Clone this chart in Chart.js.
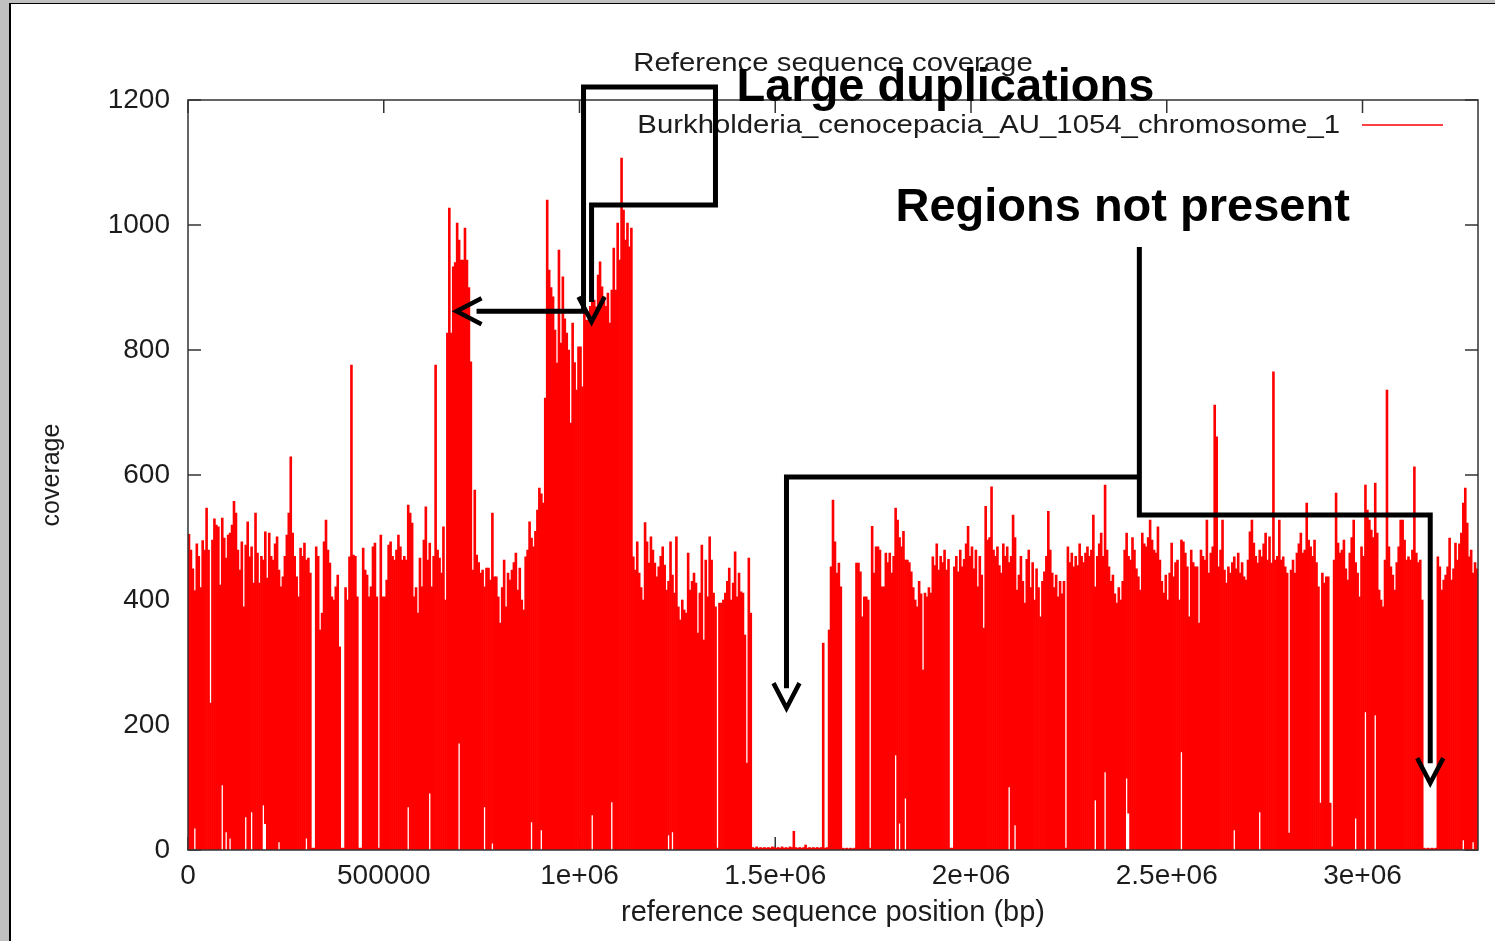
<!DOCTYPE html>
<html>
<head>
<meta charset="utf-8">
<script src="https://cdn.jsdelivr.net/npm/chart.js@4.4.1/dist/chart.umd.min.js"></script>
<style>
  html, body { margin: 0; padding: 0; background: #c0c0c0; overflow: hidden; }
  #sheet { position: absolute; left: 9px; top: 3px; width: 1600px; height: 1000px; background: #fff; border-left: 2px solid #000; border-top: 1px solid #000; }
  #wrap { position: absolute; left: 0; top: 0; width: 1495px; height: 941px; }
</style>
</head>
<body>
<div id="sheet"></div>
<div id="wrap"><canvas id="chart" width="1495" height="941"></canvas></div>
<script>
// coverage along the chromosome, one value per 5 kb bin (one line = 100 kb)
const binSize = 5000;
const xMax = 3295000;
const coverage = [
  505, 480, 450, 415, 490, 470, 420, 495, 480, 547, 480, 235, 496, 530, 520, 517, 424, 531, 499, 467,
  504, 507, 520, 558, 539, 480, 448, 493, 389, 488, 525, 469, 485, 427, 539, 475, 427, 470, 464, 509,
  435, 507, 470, 464, 490, 501, 448, 421, 437, 470, 504, 539, 629, 507, 470, 437, 405, 483, 470, 491,
  464, 467, 443, 3, 3, 485, 470, 352, 379, 493, 528, 480, 459, 405, 400, 421, 440, 325, 3, 3,
  420, 400, 469, 776, 472, 470, 405, 3, 3, 483, 448, 440, 405, 421, 485, 491, 405, 3, 504, 405,
  405, 432, 488, 493, 470, 464, 480, 504, 485, 464, 470, 464, 552, 539, 523, 405, 420, 379, 467, 421,
  496, 549, 464, 491, 421, 470, 776, 480, 467, 443, 517, 400, 827, 1027, 827, 933, 940, 1003, 976, 944,
  944, 995, 944, 900, 781, 448, 576, 472, 460, 443, 448, 421, 451, 451, 432, 539, 437, 437, 405, 363,
  420, 464, 389, 443, 432, 448, 460, 475, 416, 451, 400, 384, 469, 480, 525, 499, 485, 510, 544, 579,
  570, 555, 723, 1040, 928, 900, 885, 832, 779, 960, 811, 917, 850, 827, 800, 683, 843, 780, 736, 805,
  805, 741, 875, 848, 848, 870, 896, 880, 869, 920, 941, 901, 885, 870, 891, 843, 896, 963, 896, 1003,
  944, 1107, 1024, 976, 1003, 965, 995, 469, 448, 493, 443, 420, 400, 524, 493, 459, 501, 480, 459, 437,
  453, 470, 485, 456, 416, 430, 493, 440, 411, 501, 389, 368, 400, 384, 379, 475, 416, 430, 443, 427,
  347, 411, 488, 336, 464, 405, 501, 464, 411, 389, 3, 395, 395, 400, 411, 430, 451, 400, 427, 477,
  405, 443, 413, 411, 344, 139, 467, 379, 4, 3, 5, 3, 4, 3, 4, 3, 4, 3, 5, 4,
  3, 4, 3, 5, 3, 4, 3, 5, 4, 30, 4, 3, 4, 3, 4, 8, 3, 4, 3, 4,
  3, 4, 3, 4, 331, 3, 4, 352, 453, 560, 493, 443, 459, 421, 3, 2, 3, 2, 3, 2,
  3, 459, 459, 445, 373, 405, 405, 400, 3, 518, 443, 485, 485, 480, 421, 421, 475, 460, 475, 443,
  470, 547, 528, 500, 485, 510, 464, 464, 460, 445, 420, 400, 389, 430, 410, 288, 411, 405, 420, 411,
  469, 455, 490, 448, 470, 460, 480, 448, 465, 3, 3, 453, 470, 445, 480, 453, 465, 490, 518, 470,
  485, 450, 480, 421, 470, 440, 355, 550, 496, 500, 581, 480, 470, 485, 455, 443, 490, 470, 485, 460,
  470, 536, 500, 416, 440, 470, 430, 395, 465, 480, 420, 460, 400, 450, 420, 373, 430, 445, 470, 542,
  480, 443, 420, 440, 405, 430, 410, 430, 3, 485, 460, 475, 453, 470, 455, 490, 470, 460, 475, 485,
  470, 480, 536, 421, 470, 490, 507, 470, 584, 480, 453, 430, 440, 410, 395, 420, 400, 430, 480, 507,
  470, 464, 500, 480, 450, 437, 416, 507, 490, 485, 500, 528, 496, 480, 475, 517, 464, 430, 411, 440,
  400, 443, 491, 437, 460, 464, 400, 496, 493, 475, 453, 373, 480, 460, 453, 453, 363, 480, 470, 464,
  528, 443, 475, 485, 712, 661, 453, 480, 528, 448, 427, 453, 443, 460, 469, 450, 475, 443, 460, 437,
  432, 464, 509, 528, 491, 470, 459, 480, 469, 490, 507, 464, 501, 459, 765, 464, 470, 528, 464, 469,
  453, 443, 27, 448, 464, 443, 475, 490, 507, 475, 480, 555, 496, 485, 470, 496, 460, 421, 75, 443,
  427, 437, 437, 75, 5, 464, 571, 491, 475, 480, 496, 450, 432, 475, 500, 528, 460, 443, 405, 485,
  470, 584, 544, 528, 512, 500, 587, 507, 416, 400, 389, 464, 736, 485, 453, 440, 416, 460, 485, 528,
  528, 496, 464, 469, 464, 480, 613, 475, 460, 464, 400, 3, 2, 3, 2, 3, 2, 3, 469, 453,
  416, 432, 440, 453, 499, 432, 450, 491, 464, 490, 507, 555, 579, 523, 469, 480, 443, 460, 450
];

// bins whose lowest coverage stays above zero (white gap under the red)
const coverageFloor = [
  [15000, 35], [86000, 104], [97000, 29], [107000, 19], [147000, 53], [164000, 61],
  [190000, 72], [199000, 42], [230000, 13], [301000, 19], [562000, 69], [617000, 91],
  [690000, 171], [755000, 69], [776000, 11], [878000, 45], [903000, 32], [1031000, 56],
  [1082000, 77], [1225000, 24], [1235000, 29], [1806000, 152], [1816000, 43], [1833000, 83],
  [2099000, 101], [2112000, 40], [2318000, 80], [2343000, 125], [2399000, 115], [2403000, 59],
  [2536000, 157], [2671000, 32], [2736000, 61], [2981000, 51], [3008000, 221], [3031000, 216],
  [3257000, 16], [3283000, 13]
];

const xTickValues = [0, 500000, 1000000, 1500000, 2000000, 2500000, 3000000];
const xTickLabels = ['0', '500000', '1e+06', '1.5e+06', '2e+06', '2.5e+06', '3e+06'];
const yTickValues = [0, 200, 400, 600, 800, 1000, 1200];

const chartTitle = 'Reference sequence coverage';
const seriesName = 'Burkholderia_cenocepacia_AU_1054_chromosome_1';
const xTitle = 'reference sequence position (bp)';
const yTitle = 'coverage';

// hand drawn annotations, in data units (bp, coverage)
const dupPath = [[737000, 862], [1010300, 862], [1010300, 1221], [1347300, 1221], [1347300, 1032], [1030800, 1032], [1030800, 877]];
const missingPathA = [[2430000, 965], [2430000, 536], [3173000, 536], [3173000, 139]];
const missingPathB = [[2430000, 597], [1528700, 597], [1528700, 259]];
const dupLabel = { text: 'Large duplications', at: [1401000, 1198] };
const missingLabel = { text: 'Regions not present', at: [1807000, 1006] };

const FONT = '"Liberation Sans", Arial, Helvetica, sans-serif';
const TEXT = '#1c1c1c';

let floorByBin = {};
coverageFloor.forEach(f => { floorByBin[Math.floor(f[0] / binSize)] = f[1]; });
let barData = coverage.map((v, i) => ({ x: (i + 0.5) * binSize, y: [floorByBin[i] || 0, v] }));

function px(chart, pt) {
    return [chart.scales.x.getPixelForValue(pt[0]), chart.scales.y.getPixelForValue(pt[1])];
}

function wideText(ctx, text, x, y, align, size) {
    ctx.save();
    ctx.font = size + 'px ' + FONT;
    ctx.fillStyle = TEXT;
    ctx.textAlign = align;
    ctx.textBaseline = 'alphabetic';
    ctx.translate(x, y);
    ctx.scale(1.15, 1);
    ctx.fillText(text, 0, 0);
    ctx.restore();
}

function drawPath(chart, path, headStart, headEnd) {
    let ctx = chart.ctx;
    let pts = path.map(p => px(chart, p));
    ctx.save();
    ctx.strokeStyle = '#000';
    ctx.lineWidth = 5;
    ctx.lineJoin = 'miter';
    ctx.lineCap = 'butt';
    ctx.beginPath();
    pts.forEach((p, i) => i ? ctx.lineTo(p[0], p[1]) : ctx.moveTo(p[0], p[1]));
    ctx.stroke();
    if (headStart) chevron(ctx, pts[1], pts[0]);
    if (headEnd) chevron(ctx, pts[pts.length - 2], pts[pts.length - 1]);
    ctx.restore();
}

function chevron(ctx, from, to) {
    let dx = to[0] - from[0], dy = to[1] - from[1];
    let len = Math.hypot(dx, dy);
    dx /= len; dy /= len;
    let tip = [to[0] + dx * 20, to[1] + dy * 20];
    let back = [tip[0] - dx * 25, tip[1] - dy * 25];
    ctx.lineWidth = 4.5;
    ctx.beginPath();
    ctx.moveTo(back[0] - dy * 13, back[1] + dx * 13);
    ctx.lineTo(tip[0], tip[1]);
    ctx.lineTo(back[0] + dy * 13, back[1] - dx * 13);
    ctx.stroke();
}

const overlay = {
    id: 'overlay',
    beforeDatasetsDraw(chart) {
        // gnuplot style inward ticks on all four sides
        let ctx = chart.ctx, a = chart.chartArea;
        ctx.save();
        ctx.strokeStyle = '#333';
        ctx.lineWidth = 1.5;
        ctx.beginPath();
        xTickValues.forEach(v => {
            let x = chart.scales.x.getPixelForValue(v);
            ctx.moveTo(x, a.bottom); ctx.lineTo(x, a.bottom - 13);
            ctx.moveTo(x, a.top); ctx.lineTo(x, a.top + 13);
        });
        yTickValues.forEach(v => {
            let y = chart.scales.y.getPixelForValue(v);
            ctx.moveTo(a.left, y); ctx.lineTo(a.left + 13, y);
            ctx.moveTo(a.right, y); ctx.lineTo(a.right - 13, y);
        });
        ctx.stroke();
        ctx.restore();
    },
    afterDatasetsDraw(chart) {
        let ctx = chart.ctx, a = chart.chartArea;
        ctx.save();
        ctx.strokeStyle = '#333';
        ctx.lineWidth = 1.5;
        ctx.strokeRect(a.left, a.top, a.right - a.left, a.bottom - a.top);
        ctx.restore();
    },
    afterDraw(chart) {
        let ctx = chart.ctx, a = chart.chartArea;
        wideText(ctx, chartTitle, (a.left + a.right) / 2, a.top - 29, 'center', 25.5);
        // key
        wideText(ctx, seriesName, a.right - 138, a.top + 33, 'right', 25.5);
        ctx.save();
        ctx.strokeStyle = '#ff0000';
        ctx.lineWidth = 1.5;
        ctx.beginPath();
        ctx.moveTo(a.right - 116, a.top + 25);
        ctx.lineTo(a.right - 35, a.top + 25);
        ctx.stroke();
        ctx.restore();

        drawPath(chart, dupPath, true, true);
        drawPath(chart, missingPathA, false, true);
        drawPath(chart, missingPathB, false, true);

        ctx.save();
        ctx.fillStyle = '#000';
        ctx.font = 'bold 47px ' + FONT;
        ctx.textAlign = 'left';
        ctx.textBaseline = 'alphabetic';
        [dupLabel, missingLabel].forEach(l => {
            let p = px(chart, l.at);
            ctx.fillText(l.text, p[0], p[1]);
        });
        ctx.restore();
    }
};

let ctx = document.getElementById('chart').getContext('2d');
new Chart(ctx, {
    type: 'bar',
    data: {
        datasets: [{
            label: seriesName,
            data: barData,
            backgroundColor: '#ff0000',
            borderWidth: 0,
            barPercentage: 1,
            categoryPercentage: 1,
            grouped: false
        }]
    },
    options: {
        responsive: false,
        animation: false,
        layout: { padding: { top: 100, right: 17, left: 0, bottom: 0 } },
        plugins: { legend: { display: false }, tooltip: { enabled: false } },
        scales: {
            x: {
                type: 'linear',
                min: 0,
                max: xMax,
                offset: false,
                grid: { display: false, drawTicks: false },
                border: { display: false },
                afterBuildTicks: s => { s.ticks = xTickValues.map(v => ({ value: v })); },
                afterFit: s => { s.height = 91; },
                ticks: {
                    autoSkip: false, maxRotation: 0, padding: 9, color: TEXT,
                    font: { family: FONT, size: 28 },
                    callback: v => xTickLabels[xTickValues.indexOf(v)]
                },
                title: {
                    display: true, text: xTitle, color: TEXT,
                    font: { family: FONT, size: 29 },
                    padding: { top: 0, bottom: 11 }
                }
            },
            y: {
                min: 0,
                max: 1200,
                grid: { display: false, drawTicks: false },
                border: { display: false },
                afterBuildTicks: s => { s.ticks = yTickValues.map(v => ({ value: v })); },
                afterFit: s => { s.width = 188; },
                ticks: {
                    padding: 18, color: TEXT,
                    font: { family: FONT, size: 28 },
                    callback: v => String(v)
                },
                title: {
                    display: true, text: yTitle, color: TEXT,
                    font: { family: FONT, size: 25 },
                    padding: { top: 37, bottom: 0 }
                }
            }
        }
    },
    plugins: [overlay]
});
</script>
</body>
</html>
